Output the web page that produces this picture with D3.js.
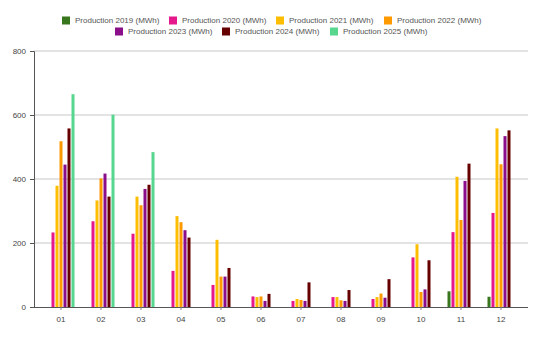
<!DOCTYPE html>
<html>
<head>
<meta charset="utf-8">
<script src="https://cdn.jsdelivr.net/npm/d3@7"></script>
<style>
  html, body { margin: 0; padding: 0; background: #fff; }
  svg { display: block; font-family: "Liberation Sans", Arial, sans-serif; }
</style>
</head>
<body>
<svg id="chart" width="542" height="340"></svg>
<script>
const months = ["01","02","03","04","05","06","07","08","09","10","11","12"];
const seriesNames = ["Production 2019 (MWh)","Production 2020 (MWh)","Production 2021 (MWh)","Production 2022 (MWh)","Production 2023 (MWh)","Production 2024 (MWh)","Production 2025 (MWh)"];
const seriesColors = ["#38761d","#e6198c","#fdbd00","#ff9900","#8a0d8a","#660000","#57d68d"];
const p2019 = [null,null,null,null,null,null,null,null,null,null,49,32];
const p2020 = [233,268,229,113,69,33,19,31,25,155,234,294];
const p2021 = [379,333,345,284,210,31,25,31,31,196,407,558];
const p2022 = [518,402,318,265,95,33,22,21,42,47,272,446];
const p2023 = [445,417,369,240,95,19,19,19,29,55,394,534];
const p2024 = [558,345,382,217,122,41,77,53,87,146,448,552];
const p2025 = [665,601,484,null,null,null,null,null,null,null,null,null];
const yTicks = [0,200,400,600,800];

const allSeries = [p2019,p2020,p2021,p2022,p2023,p2024,p2025];
const svg = d3.select("#chart");

const y = d3.scaleLinear().domain([0,800]).range([307,51]);
const x0 = d3.scaleBand().domain(months).range([41,521]);
const x1 = d3.scaleBand().domain(d3.range(7)).range([-14,14]).paddingInner(0.25).paddingOuter(0.125);

// gridlines
svg.append("g").selectAll("line").data(yTicks.filter(d => d > 0)).join("line")
  .attr("x1", 34).attr("x2", 528)
  .attr("y1", d => y(d)).attr("y2", d => y(d))
  .attr("stroke", "#c8c8c8").attr("stroke-width", 1);

// bars
const data = [];
months.forEach((m, mi) => allSeries.forEach((s, si) => {
  if (s[mi] != null) data.push({m, si, v: s[mi]});
}));
svg.append("g").selectAll("rect").data(data).join("rect")
  .attr("x", d => x0(d.m) + x0.bandwidth()/2 + x1(d.si))
  .attr("width", x1.bandwidth())
  .attr("y", d => y(d.v))
  .attr("height", d => y(0) - y(d.v))
  .attr("fill", d => seriesColors[d.si]);

// y axis
const yAxis = svg.append("g").attr("transform", "translate(34,0)")
  .call(d3.axisLeft(y).tickValues(yTicks).tickSize(4).tickPadding(4));
yAxis.select(".domain").attr("stroke", "#555");
yAxis.selectAll(".tick line").attr("stroke", "#555");
yAxis.selectAll("text").attr("font-size", 8).attr("fill", "#444").attr("font-family", "Liberation Sans, Arial, sans-serif");

// x axis
const xAxis = svg.append("g").attr("transform", "translate(0,307)")
  .call(d3.axisBottom(x0).tickSize(3).tickPadding(6).tickSizeOuter(0));
xAxis.select(".domain").attr("d", "M34,0.5H528").attr("stroke", "#555");
xAxis.selectAll(".tick line").attr("stroke", "#888");
xAxis.selectAll("text").attr("font-size", 8).attr("fill", "#444").attr("font-family", "Liberation Sans, Arial, sans-serif");

// legend
const legendPos = [[62,20.5],[169,20.5],[276,20.5],[384,20.5],[115,31.5],[222,31.5],[330,31.5]];
const lg = svg.append("g").selectAll("g").data(seriesNames).join("g")
  .attr("transform", (d,i) => `translate(${legendPos[i][0]},${legendPos[i][1]})`);
lg.append("rect").attr("x", 0).attr("y", -4).attr("width", 8).attr("height", 8)
  .attr("fill", (d,i) => seriesColors[i]);
lg.append("text").attr("x", 13).attr("y", 0).attr("dy", "0.35em")
  .attr("font-size", 8).attr("fill", "#555").text(d => d);
</script>
</body>
</html>
